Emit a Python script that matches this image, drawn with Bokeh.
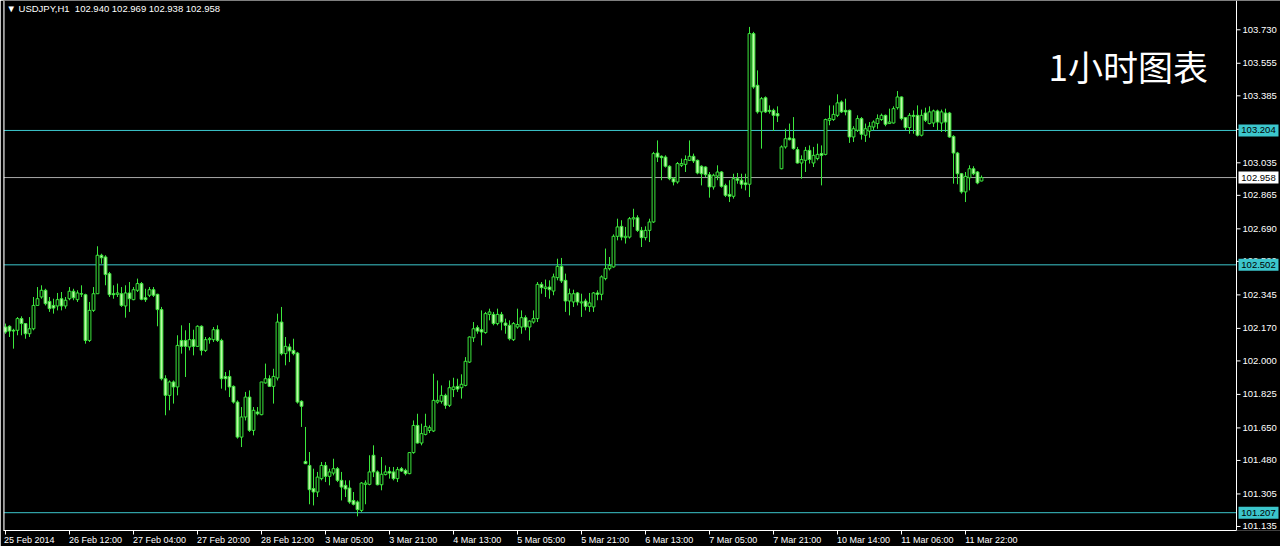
from bokeh.plotting import figure
from bokeh.models import (Range1d, LinearAxis, FixedTicker, Span, Label,
                          ColumnDataSource, CustomJSTickFormatter)
from bokeh.core.properties import value
from bokeh.embed import file_html
from bokeh.resources import INLINE

symbol = "USDJPY,H1"
chart_title = "1小时图表"

opens = [
    102.177, 102.181, 102.160, 102.160, 102.221, 102.195, 102.142, 102.168, 102.290, 102.334,
    102.369, 102.311, 102.290, 102.287, 102.325, 102.287, 102.325, 102.364, 102.320, 102.351,
    102.346, 102.107, 102.264, 102.351, 102.552, 102.543, 102.456, 102.351, 102.348, 102.351,
    102.287, 102.355, 102.320, 102.369, 102.404, 102.330, 102.343, 102.372, 102.348, 102.268,
    101.907, 101.820, 101.890, 101.864, 102.107, 102.107, 102.073, 102.111, 102.076, 102.181,
    102.055, 102.111, 102.111, 102.163, 102.107, 101.919, 101.919, 101.867, 101.785, 101.602,
    101.707, 101.811, 101.637, 101.733, 101.719, 101.885, 101.907, 101.867, 101.911, 102.203,
    102.038, 102.073, 102.055, 102.041, 101.789, 101.475, 101.454, 101.333, 101.315, 101.385,
    101.454, 101.397, 101.414, 101.437, 101.376, 101.350, 101.336, 101.271, 101.263, 101.219,
    101.355, 101.355, 101.507, 101.420, 101.353, 101.406, 101.423, 101.420, 101.385, 101.437,
    101.428, 101.411, 101.521, 101.663, 101.571, 101.616, 101.637, 101.634, 101.785, 101.789,
    101.820, 101.768, 101.850, 101.867, 101.860, 101.872, 101.994, 102.121, 102.174, 102.163,
    102.148, 102.243, 102.243, 102.195, 102.243, 102.198, 102.186, 102.111, 102.177, 102.177,
    102.226, 102.177, 102.203, 102.221, 102.400, 102.378, 102.386, 102.365, 102.435, 102.494,
    102.421, 102.313, 102.308, 102.355, 102.303, 102.313, 102.285, 102.282, 102.355, 102.348,
    102.430, 102.482, 102.491, 102.651, 102.703, 102.644, 102.647, 102.742, 102.748, 102.682,
    102.644, 102.682, 102.726, 103.086, 103.069, 103.065, 103.017, 102.952, 102.935, 103.022,
    103.027, 103.048, 103.069, 103.048, 103.017, 103.013, 102.973, 102.909, 102.966, 102.987,
    102.917, 102.870, 102.860, 102.952, 102.944, 102.930, 102.923, 103.710, 103.440, 103.301,
    103.375, 103.309, 103.309, 103.292, 103.004, 103.118, 103.165, 103.161, 103.104, 103.034,
    103.048, 103.100, 103.034, 103.057, 103.083, 103.079, 103.257, 103.261, 103.283, 103.353,
    103.309, 103.309, 103.170, 103.205, 103.266, 103.179, 103.201, 103.222, 103.240, 103.261,
    103.283, 103.240, 103.243, 103.323, 103.379, 103.271, 103.219, 103.283, 103.283, 103.179,
    103.295, 103.240, 103.243, 103.306, 103.243, 103.295, 103.295, 103.173, 103.086, 102.978,
    102.883, 102.957, 103.004, 102.987, 102.940,
]

highs = [
    102.195, 102.186, 102.168, 102.229, 102.233, 102.198, 102.229, 102.334, 102.386, 102.395,
    102.377, 102.334, 102.325, 102.355, 102.360, 102.334, 102.386, 102.377, 102.369, 102.395,
    102.351, 102.308, 102.386, 102.599, 102.560, 102.552, 102.465, 102.395, 102.404, 102.386,
    102.395, 102.412, 102.386, 102.430, 102.412, 102.377, 102.386, 102.386, 102.351, 102.282,
    101.925, 101.898, 101.898, 102.134, 102.186, 102.160, 102.198, 102.163, 102.186, 102.186,
    102.125, 102.125, 102.177, 102.186, 102.116, 101.942, 101.951, 101.872, 101.794, 101.759,
    101.838, 101.846, 101.759, 101.759, 101.890, 101.986, 101.925, 101.959, 102.247, 102.282,
    102.125, 102.090, 102.116, 102.047, 101.794, 101.655, 101.524, 101.437, 101.420, 101.472,
    101.472, 101.437, 101.489, 101.446, 101.420, 101.376, 101.376, 101.315, 101.271, 101.367,
    101.376, 101.507, 101.559, 101.428, 101.498, 101.454, 101.446, 101.446, 101.446, 101.446,
    101.437, 101.524, 101.689, 101.724, 101.672, 101.724, 101.663, 101.933, 101.898, 101.872,
    101.829, 101.898, 101.912, 101.907, 101.930, 102.020, 102.128, 102.203, 102.186, 102.264,
    102.256, 102.273, 102.256, 102.273, 102.256, 102.221, 102.212, 102.203, 102.273, 102.264,
    102.238, 102.212, 102.264, 102.412, 102.412, 102.425, 102.421, 102.456, 102.534, 102.538,
    102.456, 102.378, 102.372, 102.360, 102.351, 102.325, 102.355, 102.360, 102.369, 102.447,
    102.587, 102.543, 102.661, 102.743, 102.735, 102.700, 102.752, 102.795, 102.761, 102.700,
    102.703, 102.743, 103.092, 103.152, 103.074, 103.074, 103.022, 102.961, 103.039, 103.057,
    103.074, 103.152, 103.083, 103.052, 103.022, 103.017, 102.987, 102.978, 103.022, 102.992,
    102.926, 102.944, 102.978, 102.982, 102.978, 102.978, 103.745, 103.719, 103.518, 103.379,
    103.382, 103.335, 103.318, 103.330, 103.126, 103.213, 103.240, 103.274, 103.118, 103.074,
    103.118, 103.126, 103.118, 103.135, 103.126, 103.266, 103.335, 103.335, 103.393, 103.361,
    103.370, 103.313, 103.226, 103.283, 103.274, 103.240, 103.248, 103.257, 103.288, 103.292,
    103.287, 103.318, 103.330, 103.410, 103.382, 103.274, 103.295, 103.309, 103.335, 103.313,
    103.323, 103.330, 103.313, 103.313, 103.313, 103.318, 103.301, 103.179, 103.092, 102.982,
    102.987, 103.022, 103.017, 102.992, 102.969,
]

lows = [
    102.142, 102.125, 102.064, 102.134, 102.134, 102.116, 102.125, 102.160, 102.290, 102.325,
    102.290, 102.256, 102.247, 102.264, 102.264, 102.273, 102.317, 102.317, 102.308, 102.334,
    102.090, 102.099, 102.256, 102.351, 102.508, 102.395, 102.334, 102.325, 102.334, 102.282,
    102.226, 102.256, 102.317, 102.360, 102.317, 102.308, 102.334, 102.334, 102.181, 101.898,
    101.716, 101.742, 101.777, 101.820, 102.038, 101.916, 102.055, 102.029, 102.073, 102.029,
    102.047, 102.090, 102.099, 102.099, 101.855, 101.846, 101.811, 101.777, 101.594, 101.550,
    101.689, 101.629, 101.611, 101.716, 101.716, 101.881, 101.864, 101.777, 101.898, 102.029,
    101.977, 101.994, 102.029, 101.777, 101.655, 101.463, 101.251, 101.245, 101.289, 101.376,
    101.367, 101.350, 101.402, 101.367, 101.271, 101.289, 101.254, 101.245, 101.188, 101.211,
    101.251, 101.350, 101.393, 101.350, 101.324, 101.402, 101.385, 101.376, 101.367, 101.420,
    101.402, 101.408, 101.515, 101.568, 101.559, 101.611, 101.623, 101.629, 101.777, 101.777,
    101.750, 101.759, 101.811, 101.838, 101.803, 101.867, 101.989, 102.099, 102.142, 102.081,
    102.142, 102.212, 102.186, 102.186, 102.160, 102.142, 102.107, 102.104, 102.168, 102.142,
    102.160, 102.107, 102.195, 102.203, 102.351, 102.334, 102.325, 102.343, 102.421, 102.407,
    102.256, 102.238, 102.282, 102.290, 102.230, 102.264, 102.256, 102.256, 102.317, 102.317,
    102.421, 102.473, 102.487, 102.630, 102.630, 102.613, 102.639, 102.700, 102.674, 102.595,
    102.630, 102.621, 102.721, 103.039, 102.944, 103.010, 102.944, 102.917, 102.926, 103.013,
    102.987, 103.045, 103.034, 102.975, 102.917, 102.961, 102.853, 102.895, 102.944, 102.905,
    102.856, 102.830, 102.848, 102.926, 102.900, 102.891, 102.856, 103.422, 103.292, 103.109,
    103.295, 103.292, 103.201, 103.248, 103.001, 103.109, 103.152, 103.104, 103.031, 102.952,
    102.987, 103.031, 103.013, 103.048, 102.917, 103.074, 103.231, 103.254, 103.274, 103.295,
    103.283, 103.139, 103.144, 103.196, 103.156, 103.144, 103.166, 103.205, 103.213, 103.254,
    103.226, 103.240, 103.240, 103.313, 103.257, 103.205, 103.187, 103.187, 103.173, 103.173,
    103.248, 103.236, 103.222, 103.205, 103.196, 103.196, 103.166, 102.926, 102.923, 102.874,
    102.830, 102.891, 102.970, 102.923, 102.938,
]

closes = [
    102.151, 102.156, 102.156, 102.221, 102.195, 102.142, 102.168, 102.290, 102.325, 102.369,
    102.299, 102.273, 102.276, 102.320, 102.287, 102.317, 102.364, 102.330, 102.355, 102.349,
    102.107, 102.264, 102.351, 102.552, 102.539, 102.451, 102.346, 102.346, 102.355, 102.290,
    102.355, 102.325, 102.372, 102.404, 102.322, 102.320, 102.372, 102.343, 102.268, 101.907,
    101.820, 101.890, 101.864, 102.081, 102.076, 102.076, 102.111, 102.076, 102.181, 102.055,
    102.111, 102.116, 102.163, 102.107, 101.907, 101.907, 101.864, 101.785, 101.602, 101.707,
    101.811, 101.637, 101.742, 101.724, 101.890, 101.907, 101.867, 101.919, 102.203, 102.038,
    102.076, 102.052, 102.038, 101.785, 101.763, 101.463, 101.327, 101.315, 101.393, 101.454,
    101.397, 101.420, 101.437, 101.376, 101.341, 101.331, 101.263, 101.251, 101.223, 101.362,
    101.362, 101.420, 101.420, 101.353, 101.408, 101.420, 101.414, 101.385, 101.432, 101.425,
    101.411, 101.521, 101.663, 101.571, 101.620, 101.658, 101.651, 101.794, 101.794, 101.820,
    101.768, 101.860, 101.864, 101.853, 101.878, 101.998, 102.125, 102.168, 102.156, 102.151,
    102.247, 102.256, 102.195, 102.243, 102.203, 102.186, 102.116, 102.195, 102.190, 102.226,
    102.177, 102.208, 102.221, 102.400, 102.383, 102.386, 102.372, 102.439, 102.494, 102.418,
    102.313, 102.351, 102.351, 102.308, 102.308, 102.285, 102.303, 102.355, 102.348, 102.439,
    102.482, 102.499, 102.651, 102.700, 102.647, 102.651, 102.743, 102.748, 102.682, 102.644,
    102.682, 102.726, 103.083, 103.065, 103.062, 103.017, 102.952, 102.935, 103.031, 103.031,
    103.052, 103.069, 103.045, 102.982, 102.978, 102.973, 102.909, 102.970, 102.987, 102.912,
    102.865, 102.860, 102.952, 102.944, 102.923, 102.921, 103.710, 103.431, 103.301, 103.370,
    103.301, 103.304, 103.283, 103.280, 103.118, 103.161, 103.156, 103.109, 103.034, 103.052,
    103.100, 103.052, 103.074, 103.079, 103.074, 103.261, 103.266, 103.288, 103.348, 103.301,
    103.301, 103.170, 103.213, 103.266, 103.184, 103.213, 103.226, 103.248, 103.266, 103.283,
    103.236, 103.248, 103.318, 103.379, 103.266, 103.219, 103.283, 103.278, 103.179, 103.283,
    103.257, 103.301, 103.306, 103.248, 103.301, 103.248, 103.170, 103.086, 102.978, 102.883,
    102.964, 103.004, 102.978, 102.930, 102.958,
]

# time axis: every 16th bar carries a label
time_tick_bars = [0, 16, 32, 48, 64, 80, 96, 112, 128, 144, 160, 176, 192, 208, 224, 240]
time_tick_labels = ["25 Feb 2014", "26 Feb 12:00", "27 Feb 04:00", "27 Feb 20:00",
                    "28 Feb 12:00", "3 Mar 05:00", "3 Mar 21:00", "4 Mar 13:00",
                    "5 Mar 05:00", "5 Mar 21:00", "6 Mar 13:00", "7 Mar 05:00",
                    "7 Mar 21:00", "10 Mar 14:00", "11 Mar 06:00", "11 Mar 22:00"]

price_ticks = [101.135, 101.305, 101.480, 101.650, 101.825, 102.000, 102.170, 102.345,
               102.520, 102.690, 102.865, 103.035, 103.210, 103.385, 103.555, 103.730]

level_lines = [103.204, 102.502, 101.207]
bid_price = closes[-1]

# ---------------------------------------------------------------- layout
BG = "#000000"
GREEN = "#3ce83c"
BEAR_FILL = "#bff7a8"
CYAN = "#3cc6cc"
GREY = "#a8a8a8"
FONT = "Liberation Sans"

LEFT = 3
FRAME_W, FRAME_H = 1277, 530          # frame runs under the price scale as well
PX_BAR = 4.0                          # pixels per hourly bar
X0 = -0.5
X1 = X0 + FRAME_W / PX_BAR
AXIS_X = X0 + 1233 / PX_BAR           # the price scale line sits 1233 px into the frame
Y1 = 103.883
Y0 = 101.114
px_price = FRAME_H / (Y1 - Y0)

n = len(opens)
idx = list(range(n))
body_top = [max(o, c) for o, c in zip(opens, closes)]
body_bot = [min(o, c) for o, c in zip(opens, closes)]
fills = [BEAR_FILL if c < o else BG for o, c in zip(opens, closes)]

src = ColumnDataSource(dict(x=idx, o=opens, h=highs, l=lows, c=closes,
                            top=body_top, bot=body_bot, fill=fills))

p = figure(frame_width=FRAME_W, frame_height=FRAME_H,
           x_range=Range1d(X0, X1), y_range=Range1d(Y0, Y1),
           y_axis_location=None, output_backend="svg", toolbar_location=None,
           background_fill_color=BG, border_fill_color=BG,
           min_border_left=LEFT, min_border_top=0, min_border_right=0, min_border_bottom=16)
p.grid.visible = False
p.outline_line_color = None

# level lines and bid line, up to the price scale
lvl_src = ColumnDataSource(dict(y=level_lines, x0=[X0] * len(level_lines), x1=[AXIS_X] * len(level_lines)))
p.segment(x0="x0", y0="y", x1="x1", y1="y", source=lvl_src, line_color=CYAN, line_width=1)
p.segment(x0=[X0], y0=[bid_price], x1=[AXIS_X], y1=[bid_price], line_color=GREY, line_width=1)

# chart window borders
p.add_layout(Span(location=X0, dimension="height", line_color="white", line_width=2))
p.add_layout(Span(location=AXIS_X, dimension="height", line_color="white", line_width=1))

# candles
p.segment(x0="x", y0="l", x1="x", y1="h", source=src, line_color=GREEN, line_width=1)
p.vbar(x="x", width=0.7, top="top", bottom="bot", source=src,
       fill_color="fill", line_color=GREEN, line_width=1)

# price scale: tick marks and labels
tick_src = ColumnDataSource(dict(y=price_ticks, label=[f"{t:.3f}" for t in price_ticks],
                                 x0=[AXIS_X] * len(price_ticks), x1=[AXIS_X + 4 / PX_BAR] * len(price_ticks),
                                 xt=[AXIS_X + 6 / PX_BAR] * len(price_ticks)))
p.segment(x0="x0", y0="y", x1="x1", y1="y", source=tick_src, line_color="white", line_width=1)
p.text(x="xt", y="y", text="label", source=tick_src, text_color="white",
       text_font=value(FONT), text_font_size="9.5px", text_baseline="middle", text_align="left")

# price boxes on the scale
box_vals = level_lines + [bid_price]
box_cols = [CYAN] * len(level_lines) + ["white"]
box_src = ColumnDataSource(dict(y=box_vals, label=[f"{v:.3f}" for v in box_vals], col=box_cols,
                                xc=[AXIS_X + 22 / PX_BAR] * len(box_vals)))
p.rect(x="xc", y="y", width=40, height=12, width_units="screen", height_units="screen",
       source=box_src, fill_color="col", line_color=None)
p.text(x="xc", y="y", text="label", source=box_src, text_color="#000000",
       text_font=value(FONT), text_font_size="9.5px", text_baseline="middle", text_align="center")

# bottom axis: tick marks only
xa = p.xaxis[0]
xa.ticker = FixedTicker(ticks=time_tick_bars)
xa.formatter = CustomJSTickFormatter(code="return ''")
xa.bounds = (X0, AXIS_X)
xa.axis_line_color = "white"
xa.major_tick_line_color = "white"
xa.major_tick_out = 4
xa.major_tick_in = 0
xa.minor_tick_line_color = None
xa.major_label_text_font_size = "1px"
xa.major_label_standoff = 0

# bottom axis: labels, left-aligned to their ticks (shifted by half their width)
label_pos = [round(t + (2.2 * len(s) - 0.5) / PX_BAR, 3) for t, s in zip(time_tick_bars, time_tick_labels)]
xl = LinearAxis(ticker=FixedTicker(ticks=label_pos),
                major_label_overrides={pos: s for pos, s in zip(label_pos, time_tick_labels)})
xl.axis_line_color = None
xl.major_tick_line_color = None
xl.minor_tick_line_color = None
xl.major_tick_out = 0
xl.major_tick_in = 0
xl.major_label_standoff = 0
xl.major_label_text_color = "white"
xl.major_label_text_font = FONT
xl.major_label_text_font_size = "9px"
p.add_layout(xl, "below")

# header
header = "\u25bc " + symbol + "\u00a0\u00a0" + " ".join(f"{v:.3f}" for v in (opens[-1], highs[-1], lows[-1], closes[-1]))
p.add_layout(Label(x=X0, y=Y1, x_offset=3, y_offset=-2, text=header, text_baseline="top",
                   text_align="left", text_font=FONT, text_font_size="9.5px", text_color="white"))

# chart caption
p.add_layout(Label(x=X0 + 1045 / PX_BAR, y=Y1 - 65 / px_price, text=chart_title,
                   text_baseline="middle", text_align="left", text_font="Noto Sans CJK SC",
                   text_font_size="35px", text_color="white"))

open("out.html", "w").write(file_html(p, INLINE))
